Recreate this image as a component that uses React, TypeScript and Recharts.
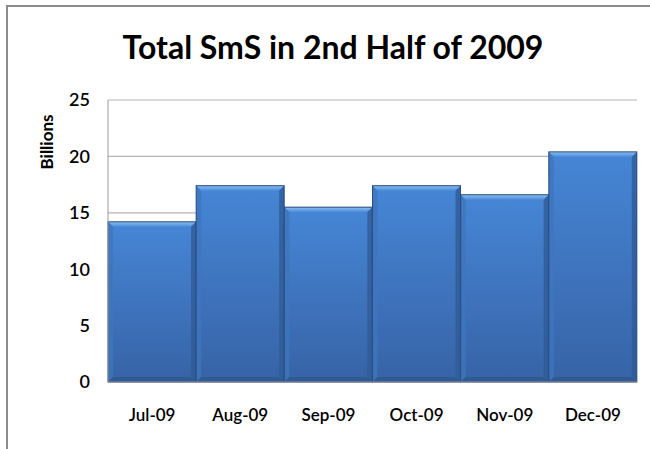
import { BarChart, Bar, XAxis, YAxis, CartesianGrid } from 'recharts'

const months = ['Jul-09', 'Aug-09', 'Sep-09', 'Oct-09', 'Nov-09', 'Dec-09']
const smsBillions = [14.2, 17.4, 15.5, 17.4, 16.6, 20.4]
const yTicks = [0, 5, 10, 15, 20, 25]

const data = months.map((month, i) => ({ month, sms: smsBillions[i] }))

const FONT = 'Lato, "Open Sans", sans-serif'
const B = 5

function BevelBar(props: any) {
  const { x, y, width: w, height: h } = props
  if (!h || h <= 0) return null
  return (
    <g>
      <rect x={x} y={y} width={w} height={h} fill="url(#barFill)" />
      <polygon points={`${x},${y} ${x + w},${y} ${x + w - B},${y + B} ${x + B},${y + B}`} fill="url(#bevelTop)" />
      <polygon points={`${x},${y} ${x + B},${y + B} ${x + B},${y + h - B} ${x},${y + h}`} fill="#3f76bd" opacity={0.8} />
      <polygon points={`${x + w},${y} ${x + w - B},${y + B} ${x + w - B},${y + h - B} ${x + w},${y + h}`} fill="#2f5b96" opacity={0.8} />
      <polygon points={`${x},${y + h} ${x + B},${y + h - B} ${x + w - B},${y + h - B} ${x + w},${y + h}`} fill="#2e5790" opacity={0.8} />
      <rect x={x} y={y} width={w} height={h} fill="none" stroke="#2a4d7e" strokeWidth={1} />
    </g>
  )
}

export default function App() {
  return (
    <div style={{ position: 'absolute', left: 0, top: 0, width: 650, height: 449, background: '#fff', overflow: 'hidden' }}>
      <div
        style={{
          position: 'absolute',
          left: 6,
          top: 5,
          width: 700,
          height: 500,
          borderTop: '2px solid #8c8c8c',
          borderLeft: '2px solid #8c8c8c',
        }}
      />
      <div
        style={{
          position: 'absolute',
          left: 0,
          width: 666,
          top: 27,
          textAlign: 'center',
          fontFamily: FONT,
          fontWeight: 700,
          fontSize: 32,
          lineHeight: '40px',
          color: '#000',
        }}
      >
        Total SmS in 2nd Half of 2009
      </div>
      <div
        style={{
          position: 'absolute',
          left: 46,
          top: 142,
          transform: 'translate(-50%, -50%) rotate(-90deg)',
          fontFamily: FONT,
          fontWeight: 700,
          fontSize: 17,
          color: '#000',
          whiteSpace: 'nowrap',
        }}
      >
        Billions
      </div>
      <div style={{ position: 'absolute', left: 0, top: 0 }}>
        <BarChart width={650} height={449} data={data} margin={{ top: 100, right: 13, bottom: 37, left: 0 }} barCategoryGap={0}>
          <defs>
            <linearGradient id="barFill" x1="0" y1="0" x2="0" y2="1">
              <stop offset="0%" stopColor="#4686d6" />
              <stop offset="100%" stopColor="#3763a6" />
            </linearGradient>
            <linearGradient id="bevelTop" x1="0" y1="0" x2="0" y2="1">
              <stop offset="0%" stopColor="#8cc0f4" />
              <stop offset="100%" stopColor="#4a8ad8" />
            </linearGradient>
          </defs>
          <CartesianGrid vertical={false} stroke="#b3b3b3" strokeWidth={1.2} />
          <XAxis
            dataKey="month"
            tickLine={false}
            tickSize={0}
            tickMargin={27}
            axisLine={{ stroke: '#9a9a9a' }}
            height={30}
            tick={{ fill: '#000', fontSize: 17, fontFamily: FONT, fontWeight: 600 }}
          />
          <YAxis
            domain={[0, 25]}
            ticks={yTicks}
            width={108}
            tickLine={false}
            tickSize={0}
            tickMargin={18}
            axisLine={{ stroke: '#9a9a9a' }}
            tick={{ fill: '#000', fontSize: 18, fontFamily: FONT, fontWeight: 600 }}
          />
          <Bar dataKey="sms" shape={<BevelBar />} isAnimationActive={false} />
        </BarChart>
      </div>
    </div>
  )
}
